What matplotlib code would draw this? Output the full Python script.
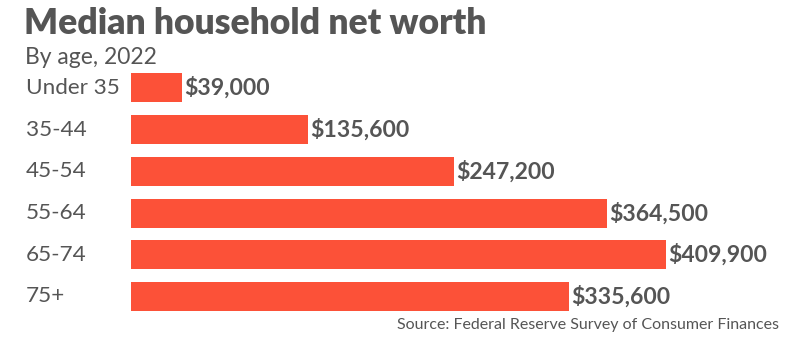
import matplotlib
matplotlib.use("Agg")
import matplotlib.pyplot as plt

categories = ["Under 35", "35-44", "45-54", "55-64", "65-74", "75+"]
values = [39000, 135600, 247200, 364500, 409900, 335600]
value_labels = ["$39,000", "$135,600", "$247,200", "$364,500", "$409,900", "$335,600"]

W, H = 809, 362
fig = plt.figure(figsize=(W / 100, H / 100), dpi=100)
fig.patch.set_facecolor("white")

left_px, right_px = 131, 809
top_px, bot_px = 67, 317.5
ax = fig.add_axes([left_px / W, 1 - bot_px / H, (right_px - left_px) / W, (bot_px - top_px) / H])
scale = 535 / 409900  # px per dollar
ax.set_xlim(0, (right_px - left_px) / scale)
ax.set_ylim(len(categories) - 0.5, -0.5)
ax.axis("off")

bar_color = "#FC5138"
txt = "#555555"
font = ["Lato", "DejaVu Sans"]

ys = list(range(len(categories)))
ax.barh(ys, values, height=0.7, color=bar_color)
for y, v, lab, cat in zip(ys, values, value_labels, categories):
    ax.text(v + 1800, y, lab, va="center", ha="left", fontsize=16.6, fontweight="bold",
            color=txt, family=font)
    fig.text(26 / W, 1 - (88 + 41.7 * y) / H, cat, va="center", ha="left", fontsize=16.2,
             color=txt, family=font)

fig.text(24 / W, 1 - 23 / H, "Median household net worth", fontsize=25.6, fontweight="heavy",
         color=txt, family=font, va="center", ha="left")
fig.text(25 / W, 1 - 57 / H, "By age, 2022", fontsize=16.5, color=txt, family=font,
         va="center", ha="left")
fig.text(779 / W, 1 - 325 / H, "Source: Federal Reserve Survey of Consumer Finances",
         fontsize=11.5, color=txt, family=font, va="center", ha="right")

fig.savefig("out.png", dpi=100, facecolor="white")
